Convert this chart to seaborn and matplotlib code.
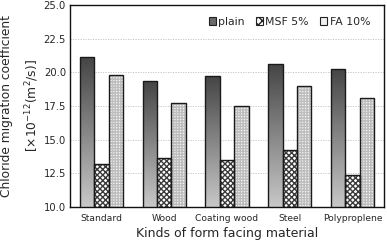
import numpy as np
import pandas as pd
import matplotlib
matplotlib.use('Agg')
import matplotlib.pyplot as plt
from matplotlib.patches import Rectangle
from matplotlib.ticker import MultipleLocator, FixedLocator
import seaborn as sns

# Data
materials = ['Standard', 'Wood', 'Coating wood', 'Steel', 'Polyproplene']
series = ['plain', 'MSF 5%', 'FA 10%']
plain = [21.1, 19.35, 19.7, 20.6, 20.25]
msf5 = [13.15, 13.6, 13.45, 14.2, 12.35]
fa10 = [19.8, 17.7, 17.5, 18.95, 18.05]

df = pd.DataFrame({
    'material': materials * 3,
    'series': ['plain'] * 5 + ['MSF 5%'] * 5 + ['FA 10%'] * 5,
    'value': plain + msf5 + fa10,
})

sns.set_style('white')
plt.rcParams['font.family'] = ['DejaVu Sans']

fig = plt.figure(figsize=(3.87, 2.44), dpi=100)
ax = fig.add_axes([0.181, 0.152, 0.811, 0.828])

sns.barplot(data=df, x='material', y='value', hue='series', order=materials,
            hue_order=series, width=0.69, gap=0, ax=ax, errorbar=None,
            edgecolor='#1a1a1a', linewidth=1.0, legend=False, saturation=1)

ax.set_xlim(-0.5, 4.5)
ax.set_ylim(10, 25)

# style bars per series: gradient for plain, hatches for the others
grad = np.linspace(0, 1, 256).reshape(-1, 1)
cmap = matplotlib.colors.LinearSegmentedColormap.from_list('g', ['#c8c8c8', '#454545'])
for i, cont in enumerate(ax.containers):
    for p in cont.patches:
        x, y = p.get_x(), p.get_y()
        w, h = p.get_width(), p.get_height()
        p.set_facecolor('none')
        p.set_zorder(3)
        ax.add_patch(Rectangle((x, y), w, h, facecolor='white', lw=0, zorder=1.4))
        if i == 0:
            im = ax.imshow(grad, extent=[x, x + w, 10, y + h], origin='lower',
                           cmap=cmap, aspect='auto', zorder=1.5)
            im.set_clip_path(p)
        elif i == 1:
            ax.add_patch(Rectangle((x, y), w, h, facecolor='none', edgecolor='#3a3a3a',
                                   hatch='xxxxxx', lw=0, zorder=1.6))
        else:
            ax.add_patch(Rectangle((x, y), w, h, facecolor='#f4f4f4', edgecolor='#bdbdbd',
                                   hatch='++++++', lw=0, zorder=1.6))

ax.set_xlim(-0.5, 4.5)
ax.set_ylim(10, 25)

# grid
ax.yaxis.set_major_locator(MultipleLocator(2.5))
ax.set_yticklabels([f'{v:.1f}' for v in ax.get_yticks()])
for v in [12.5, 15, 17.5, 20, 22.5]:
    ax.axhline(v, color='#c0c0c0', lw=0.6, ls=(0, (1.5, 1.5)), zorder=0.5)

ax.tick_params(axis='y', length=0, labelsize=7.2, pad=3)
ax.tick_params(axis='x', which='major', length=0, labelsize=6.6, pad=5)
ax.xaxis.set_minor_locator(FixedLocator([0.5, 1.5, 2.5, 3.5]))
ax.tick_params(axis='x', which='minor', direction='in', length=3, width=0.8, color='#333333')

for s in ax.spines.values():
    s.set_color('#111111')
    s.set_linewidth(1.0)

ax.set_xlabel('Kinds of form facing material', fontsize=9, labelpad=3)
ax.set_ylabel('Chloride migration coefficient\n[×10$^{-12}$(m$^2$/s)]', fontsize=8.8,
              labelpad=2, linespacing=1.75)

# legend
handles = [
    Rectangle((0, 0), 1, 1, facecolor='#6a6a6a', edgecolor='#222222', lw=0.8),
    Rectangle((0, 0), 1, 1, facecolor='white', edgecolor='#222222', hatch='xxxx', lw=0.8),
    Rectangle((0, 0), 1, 1, facecolor='#f0f0f0', edgecolor='#222222', lw=0.8),
]
ax.legend(handles, series, loc='upper right', ncol=3, frameon=False, fontsize=7.8,
          handlelength=0.7, handleheight=0.7, handletextpad=0.2, columnspacing=1.0,
          bbox_to_anchor=(0.98, 0.98), borderaxespad=0.3)

fig.savefig('out.png', dpi=100)
